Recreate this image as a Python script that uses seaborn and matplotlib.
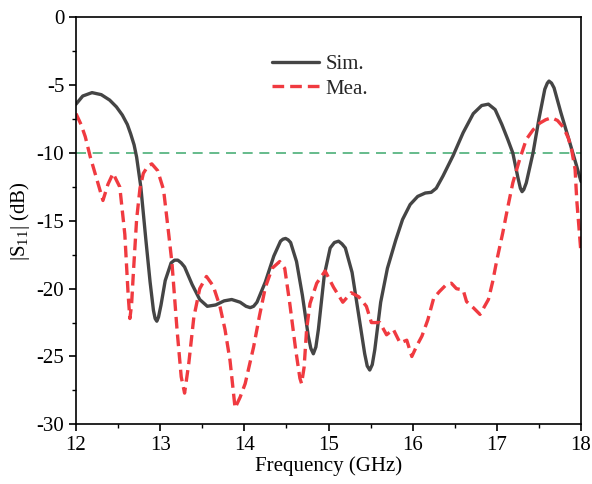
import matplotlib
matplotlib.use("Agg")
import matplotlib.pyplot as plt
import seaborn as sns
import pandas as pd
from matplotlib.ticker import MultipleLocator

sim_f = [12.00, 12.08, 12.19, 12.30, 12.40, 12.48, 12.55, 12.61, 12.65, 12.69, 12.72, 12.77, 12.83, 12.88, 12.92, 12.94, 12.96,
         12.98, 13.01, 13.06, 13.13, 13.17, 13.21, 13.25, 13.29, 13.38, 13.47, 13.56, 13.66, 13.76, 13.85, 13.95, 14.02, 14.07, 14.11, 14.15,
         14.25, 14.35, 14.43, 14.46, 14.49, 14.52, 14.55, 14.62, 14.69, 14.76, 14.79, 14.82, 14.85, 14.88, 14.95, 15.02, 15.07, 15.12, 15.16, 15.20,
         15.28, 15.36, 15.43, 15.46, 15.49, 15.52, 15.55, 15.62, 15.70, 15.80, 15.88, 15.97, 16.06, 16.15, 16.22, 16.28,
         16.36, 16.48, 16.60, 16.72, 16.82, 16.90, 16.98, 17.06, 17.13, 17.19, 17.25, 17.28, 17.30, 17.32, 17.35, 17.43,
         17.50, 17.57, 17.60, 17.62, 17.65, 17.68, 17.76, 17.87, 17.95, 18.00]
sim_db = [-6.4, -5.8, -5.55, -5.7, -6.1, -6.6, -7.2, -7.9, -8.6, -9.4, -10.3, -12.5, -16.4, -19.5, -21.6, -22.2, -22.4,
          -22.1, -21.2, -19.4, -18.1, -17.9, -17.9, -18.1, -18.4, -19.7, -20.8, -21.3, -21.2, -20.9, -20.8, -21.0, -21.3, -21.4, -21.3, -21.0,
          -19.5, -17.6, -16.5, -16.35, -16.3, -16.4, -16.6, -18.0, -20.5, -23.5, -24.4, -24.8, -24.3, -23.0, -19.0, -17.0, -16.6, -16.5, -16.7, -17.0,
          -18.8, -22.0, -24.8, -25.7, -26.0, -25.6, -24.5, -21.0, -18.5, -16.4, -14.9, -13.8, -13.2, -12.95, -12.9, -12.6,
          -11.7, -10.2, -8.5, -7.1, -6.5, -6.4, -6.8, -7.9, -9.0, -10.0, -11.8, -12.6, -12.85, -12.7, -12.2, -10.0,
          -7.5, -5.3, -4.85, -4.7, -4.85, -5.2, -7.0, -9.3, -11.0, -12.1]

mea_f = [12.00, 12.06, 12.11, 12.17, 12.25, 12.32, 12.38, 12.44, 12.52, 12.58, 12.62, 12.64, 12.66, 12.68, 12.72, 12.76,
         12.80, 12.85, 12.90, 12.97, 13.04, 13.10, 13.14, 13.20, 13.25, 13.29, 13.34, 13.40, 13.47, 13.55,
         13.63, 13.71, 13.77, 13.83, 13.89, 13.95, 14.01, 14.11, 14.18, 14.25, 14.33, 14.42, 14.48, 14.54,
         14.61, 14.66, 14.68, 14.71, 14.74, 14.78, 14.86, 14.96, 15.06, 15.17, 15.27, 15.36, 15.45, 15.51, 15.61, 15.69,
         15.77, 15.85, 15.93, 15.99, 16.05, 16.11, 16.18, 16.25, 16.32, 16.40, 16.46, 16.52, 16.60, 16.64,
         16.72, 16.80, 16.90, 16.95, 17.00, 17.07, 17.13, 17.19, 17.27, 17.35, 17.43, 17.51, 17.58, 17.65,
         17.72, 17.79, 17.85, 17.89, 17.93, 17.95, 17.98, 18.00]
mea_db = [-7.1, -7.9, -8.8, -10.3, -12.0, -13.5, -12.3, -11.5, -12.5, -16.0, -20.5, -22.2, -21.2, -19.0, -14.9, -12.6,
          -11.5, -11.0, -10.8, -11.3, -12.7, -15.9, -18.1, -23.0, -26.5, -27.7, -25.5, -22.1, -20.0, -19.1,
          -19.8, -21.3, -23.0, -25.3, -28.8, -28.0, -27.0, -24.3, -22.0, -19.9, -18.5, -18.0, -18.5, -21.1,
          -24.5, -26.6, -27.0, -25.8, -23.0, -21.1, -19.6, -18.7, -19.9, -21.0, -20.3, -20.6, -21.3, -22.5, -22.5, -23.4,
          -23.0, -24.0, -23.8, -25.0, -24.2, -23.5, -22.3, -20.7, -20.2, -19.7, -19.6, -20.0, -20.1, -20.95,
          -21.4, -21.9, -20.8, -19.5, -17.9, -15.9, -14.0, -12.2, -10.5, -9.0, -8.3, -7.8, -7.55, -7.4,
          -7.6, -8.1, -8.9, -9.8, -11.2, -13.5, -15.8, -17.4]

ref_level = -10
labels = ["Sim.", "Mea."]

sns.set_theme(style="ticks")
plt.rcParams["font.family"] = ["Liberation Serif", "DejaVu Serif"]
plt.rcParams["mathtext.fontset"] = "custom"
plt.rcParams["mathtext.rm"] = "Liberation Serif"
plt.rcParams["mathtext.it"] = "Liberation Serif"
plt.rcParams["axes.unicode_minus"] = False

fig = plt.figure(figsize=(5.92, 4.84), dpi=100)
ax = fig.add_axes([0.1284, 0.1233, 0.853, 0.8409])

ax.axhline(ref_level, color="#4caf78", lw=1.2, dashes=(6, 4), zorder=1)

df_sim = pd.DataFrame({"f": sim_f, "db": sim_db})
df_mea = pd.DataFrame({"f": mea_f, "db": mea_db})
sns.lineplot(data=df_sim, x="f", y="db", ax=ax, color="#454545", lw=2.4, label=labels[0], sort=False)
sns.lineplot(data=df_mea, x="f", y="db", ax=ax, color="#f03a40", lw=2.4, label=labels[1], sort=False)
for ln in ax.lines[-2:]:
    ln.set_solid_joinstyle("round")
    ln.set_dash_joinstyle("round")
ax.lines[-1].set_dashes((3.5, 1.8))

ax.set_xlim(12, 18)
ax.set_ylim(-30, 0)
ax.xaxis.set_major_locator(MultipleLocator(1))
ax.xaxis.set_minor_locator(MultipleLocator(0.5))
ax.yaxis.set_major_locator(MultipleLocator(5))
ax.yaxis.set_minor_locator(MultipleLocator(2.5))
ax.tick_params(which="major", direction="out", length=5, width=1.2, labelsize=15, color="black", labelcolor="black")
ax.tick_params(which="minor", direction="out", length=3, width=1.0, color="black")
ax.tick_params(top=False, right=False, which="both")
for s in ax.spines.values():
    s.set_linewidth(1.2)
    s.set_color("black")

ax.set_xlabel("Frequency (GHz)", fontsize=15, labelpad=1, color="black")
ax.set_ylabel("|S$_{11}$| (dB)", fontsize=15, labelpad=3, color="black")

leg = ax.legend(loc="upper left", bbox_to_anchor=(0.35, 0.955), frameon=False, fontsize=15,
                handlelength=2.3, handletextpad=0.3, labelspacing=0.25)

fig.savefig("out.png", dpi=100)
